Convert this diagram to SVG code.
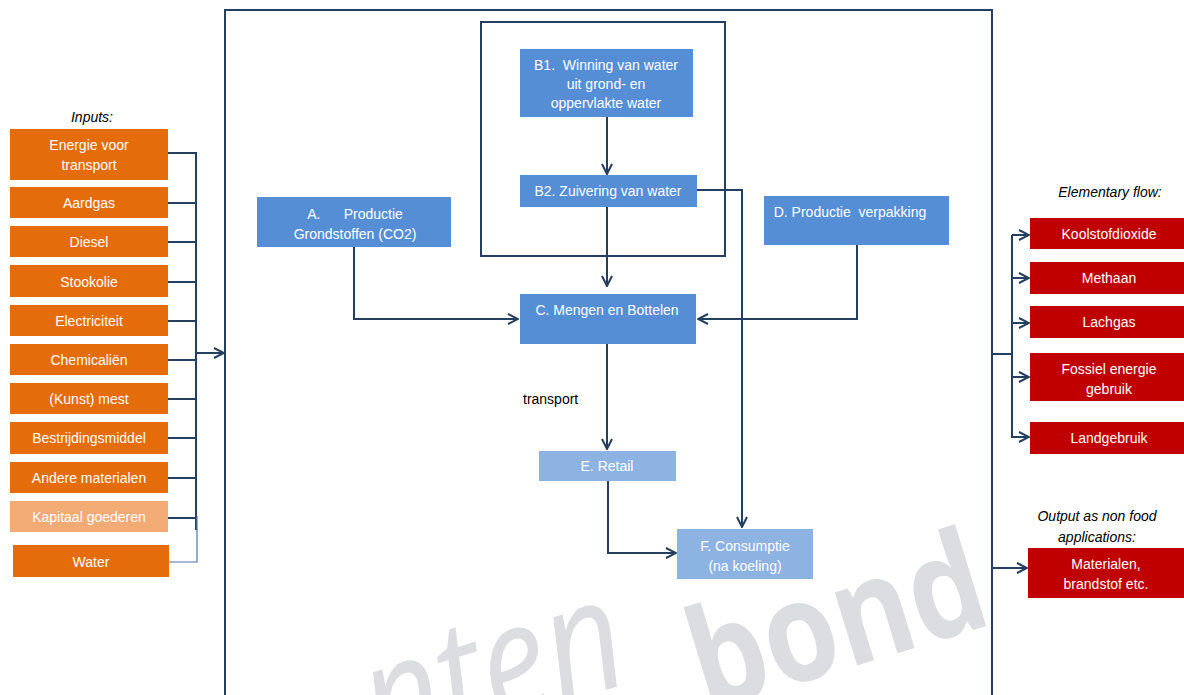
<svg xmlns="http://www.w3.org/2000/svg" width="1184" height="695" viewBox="0 0 1184 695">
<style>
.t{font-family:"Liberation Sans",Arial,sans-serif;font-size:14px;fill:#ffffff;text-anchor:middle}
.k{font-family:"Liberation Sans",Arial,sans-serif;font-size:14px;fill:#000000}
.i{font-family:"Liberation Sans",Arial,sans-serif;font-size:14px;font-style:italic;fill:#000000;text-anchor:middle}
.or{fill:#e46c0a}
.or2{fill:#f2ab74}
.bl{fill:#558ed5}
.lb{fill:#8db3e2}
.rd{fill:#c00000}
.ln{fill:none;stroke:#243f60;stroke-width:2}
.lt{fill:none;stroke:#4f75aa;stroke-width:1.2}
.frame{fill:none;stroke:#243f60;stroke-width:2}
</style>
<defs>
<marker id="ah" viewBox="0 0 12 12" refX="11" refY="6" markerWidth="12" markerHeight="12" markerUnits="userSpaceOnUse" orient="auto">
<path d="M1,1 L11,6 L1,11" fill="none" stroke="#243f60" stroke-width="2"/>
</marker>
</defs>
<rect width="1184" height="695" fill="#ffffff"/>
<g id="watermark">
<text transform="translate(380,759) rotate(-17) scale(0.85,1)" font-family="Open Sans,Liberation Sans,sans-serif" font-size="158" fill="#dcdde0"><tspan font-style="italic">nten</tspan><tspan font-weight="bold" font-size="140" dx="70" dy="50">bond</tspan></text>
</g>
<g id="frames">
<rect class="frame" x="225" y="10" width="767" height="700"/>
<rect class="frame" x="481" y="22" width="244" height="234"/>
</g>
<g id="connectors">
<path class="ln" d="M168,153 H196 V530 M168,203 H196 M168,242 H196 M168,282 H196 M168,321 H196 M168,360 H196 M168,399 H196 M168,438 H196 M168,478 H196 M168,518 H196"/>
<path class="lt" d="M169,562 H197 V516"/>
<path class="ln" d="M196,353 H224" marker-end="url(#ah)"/>
<path class="ln" d="M607,117 V174" marker-end="url(#ah)"/>
<path class="ln" d="M607,207 V286" marker-end="url(#ah)"/>
<path class="ln" d="M354,247 V319 H518" marker-end="url(#ah)"/>
<path class="ln" d="M857,245 V319 H698" marker-end="url(#ah)"/>
<path class="ln" d="M697,190 H742 V527" marker-end="url(#ah)"/>
<path class="ln" d="M607,344 V449" marker-end="url(#ah)"/>
<path class="ln" d="M608,481 V553 H676" marker-end="url(#ah)"/>
<path class="ln" d="M992,354 H1012 M1012,235 V438"/>
<path class="ln" d="M1012,235 H1029" marker-end="url(#ah)"/>
<path class="ln" d="M1012,278 H1029" marker-end="url(#ah)"/>
<path class="ln" d="M1012,323 H1029" marker-end="url(#ah)"/>
<path class="ln" d="M1012,377 H1029" marker-end="url(#ah)"/>
<path class="ln" d="M1011,437 H1029" marker-end="url(#ah)"/>
<path class="ln" d="M992,568 H1027" marker-end="url(#ah)"/>
</g>
<g id="labels">
<text class="i" x="92" y="122">Inputs:</text>
<text class="i" x="1110" y="197">Elementary flow:</text>
<text class="i" x="1097" y="521">Output as non food</text>
<text class="i" x="1097" y="542">applications:</text>
<text class="k" x="523" y="404">transport</text>
</g>
<g id="in-energie"><rect class="or" x="10" y="129" width="158" height="51"/><text class="t" x="89" y="150">Energie voor</text><text class="t" x="89" y="170">transport</text></g>
<g id="in-aardgas"><rect class="or" x="10" y="187" width="158" height="31"/><text class="t" x="89" y="208">Aardgas</text></g>
<g id="in-diesel"><rect class="or" x="10" y="226" width="158" height="31"/><text class="t" x="89" y="247">Diesel</text></g>
<g id="in-stookolie"><rect class="or" x="10" y="265" width="158" height="32"/><text class="t" x="89" y="287">Stookolie</text></g>
<g id="in-electriciteit"><rect class="or" x="10" y="305" width="158" height="31"/><text class="t" x="89" y="326">Electriciteit</text></g>
<g id="in-chemicalien"><rect class="or" x="10" y="344" width="158" height="31"/><text class="t" x="89" y="365">Chemicaliën</text></g>
<g id="in-mest"><rect class="or" x="10" y="383" width="158" height="31"/><text class="t" x="89" y="404">(Kunst) mest</text></g>
<g id="in-bestrijding"><rect class="or" x="10" y="422" width="158" height="32"/><text class="t" x="89" y="443">Bestrijdingsmiddel</text></g>
<g id="in-andere"><rect class="or" x="10" y="462" width="158" height="31"/><text class="t" x="89" y="483">Andere materialen</text></g>
<g id="in-kapitaal"><rect class="or2" x="10" y="501" width="158" height="31"/><text class="t" x="89" y="522">Kapitaal goederen</text></g>
<g id="in-water"><rect class="or" x="13" y="545" width="156" height="32"/><text class="t" x="91" y="567">Water</text></g>
<g id="b1"><rect class="bl" x="520" y="49" width="173" height="68"/><text class="t" x="606" y="70" xml:space="preserve">B1.  Winning van water</text><text class="t" x="606" y="89">uit grond- en</text><text class="t" x="606" y="108">oppervlakte water</text></g>
<g id="b2"><rect class="bl" x="520" y="175" width="177" height="32"/><text class="t" x="608" y="196">B2. Zuivering van water</text></g>
<g id="a"><rect class="bl" x="257" y="197" width="194" height="50"/><text class="t" x="355" y="219" xml:space="preserve">A.      Productie</text><text class="t" x="355" y="239">Grondstoffen (CO2)</text></g>
<g id="c"><rect class="bl" x="520" y="294" width="176" height="50"/><text class="t" x="607" y="315">C. Mengen en Bottelen</text></g>
<g id="d"><rect class="bl" x="764" y="196" width="185" height="49"/><text class="t" x="850" y="217" xml:space="preserve">D. Productie  verpakking</text></g>
<g id="e"><rect class="lb" x="539" y="451" width="137" height="30"/><text class="t" x="607" y="471">E. Retail</text></g>
<g id="f"><rect class="lb" x="677" y="529" width="136" height="50"/><text class="t" x="745" y="551">F. Consumptie</text><text class="t" x="745" y="571">(na koeling)</text></g>
<g id="out-co2"><rect class="rd" x="1030" y="218" width="154" height="31"/><text class="t" x="1109" y="239">Koolstofdioxide</text></g>
<g id="out-methaan"><rect class="rd" x="1030" y="262" width="154" height="32"/><text class="t" x="1109" y="283">Methaan</text></g>
<g id="out-lachgas"><rect class="rd" x="1030" y="306" width="154" height="32"/><text class="t" x="1109" y="327">Lachgas</text></g>
<g id="out-fossiel"><rect class="rd" x="1030" y="353" width="154" height="48"/><text class="t" x="1109" y="374">Fossiel energie</text><text class="t" x="1109" y="394">gebruik</text></g>
<g id="out-land"><rect class="rd" x="1030" y="422" width="154" height="32"/><text class="t" x="1109" y="443">Landgebruik</text></g>
<g id="out-mat"><rect class="rd" x="1028" y="548" width="156" height="50"/><text class="t" x="1106" y="569">Materialen,</text><text class="t" x="1106" y="589">brandstof etc.</text></g>
</svg>
